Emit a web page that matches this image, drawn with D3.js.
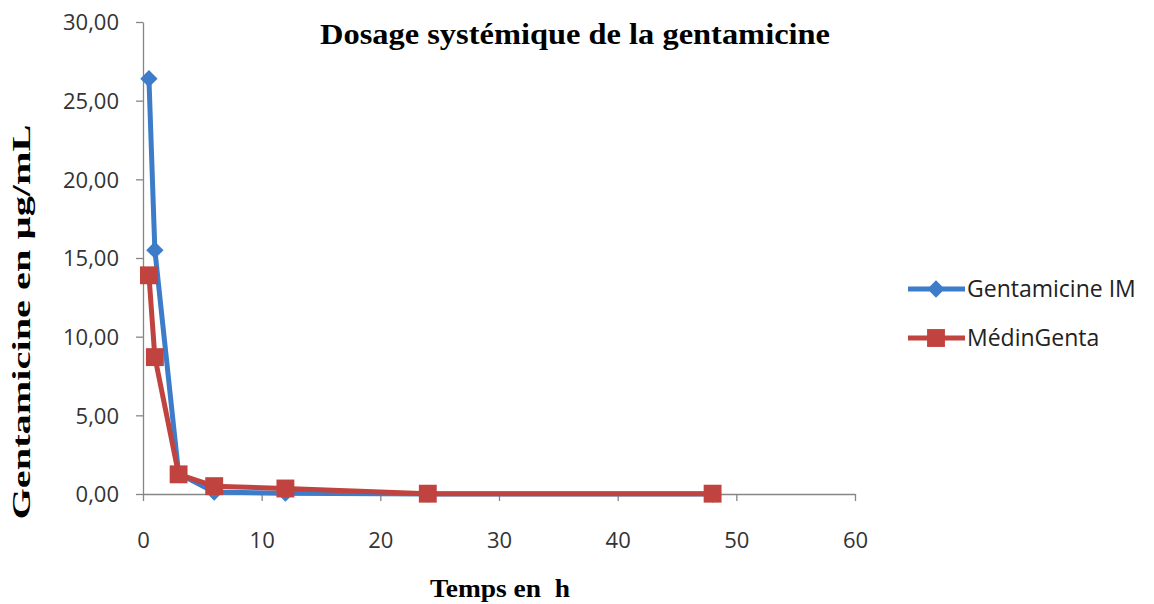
<!DOCTYPE html>
<html><head><meta charset="utf-8">
<script src="https://cdn.jsdelivr.net/npm/d3@7/dist/d3.min.js"></script>
<style>body{margin:0;background:#fff}</style>
</head><body><svg id="c" width="1154" height="604"></svg>
<script>
const times = [0.5, 1, 3, 6, 12, 24, 48];
const gentaIM = [26.4, 15.5, 1.3, 0.12, 0.05, 0.0, 0.0];
const medinGenta = [13.9, 8.7, 1.25, 0.5, 0.35, 0.02, 0.02];
const seriesNames = ["Gentamicine IM", "MédinGenta"];
const xTicks = [0, 10, 20, 30, 40, 50, 60];
const yTicks = [0, 5, 10, 15, 20, 25, 30];

const svg = d3.select("#c");
const x = d3.scaleLinear().domain([0, 60]).range([143, 855]);
const y = d3.scaleLinear().domain([0, 30]).range([494, 22]);
const axisColor = "#868686";
const tickFont = "'Open Sans', 'Noto Sans', sans-serif";

const xa = svg.append("g").attr("transform", "translate(0,494)")
  .call(d3.axisBottom(x).tickValues(xTicks).tickSize(7).tickSizeOuter(0).tickFormat(d3.format("d")));
const ya = svg.append("g").attr("transform", "translate(143,0)")
  .call(d3.axisLeft(y).tickValues(yTicks).tickSize(7).tickSizeOuter(0).tickFormat(d => d.toFixed(2).replace(".", ",")));
[xa, ya].forEach(a => {
  a.select(".domain").attr("stroke", axisColor).attr("stroke-width", 1.3);
  a.selectAll(".tick line").attr("stroke", axisColor).attr("stroke-width", 1.3);
  a.selectAll("text").attr("fill", "#333").attr("font-family", tickFont).attr("font-size", 22);
});
xa.selectAll("text").attr("y", 0).attr("dy", "54px");
ya.selectAll("text").attr("x", -24).attr("dy", "0.35em");

const series = [
  {name: seriesNames[0], vals: gentaIM, color: "#3D7CC9", sym: d3.symbolSquare, size: 150, rot: 45},
  {name: seriesNames[1], vals: medinGenta, color: "#C0433F", sym: d3.symbolSquare, size: 320, rot: 0}
];
const line = d3.line().x((d, i) => x(times[i])).y(d => y(d));
series.forEach(s => {
  svg.append("path").datum(s.vals).attr("d", line).attr("fill", "none")
    .attr("stroke", s.color).attr("stroke-width", 5).attr("stroke-linejoin", "round");
  svg.selectAll(null).data(s.vals).enter().append("path")
    .attr("d", d3.symbol().type(s.sym).size(s.size))
    .attr("transform", (d, i) => `translate(${x(times[i])},${y(d)}) rotate(${s.rot})`)
    .attr("fill", s.color);
});

// legend
series.forEach((s, i) => {
  const ly = 289 + i * 49;
  svg.append("line").attr("x1", 908).attr("x2", 965).attr("y1", ly).attr("y2", ly)
    .attr("stroke", s.color).attr("stroke-width", 5);
  svg.append("path").attr("d", d3.symbol().type(s.sym).size(s.size))
    .attr("transform", `translate(936,${ly}) rotate(${s.rot})`).attr("fill", s.color);
  svg.append("text").attr("x", 967).attr("y", ly).attr("dy", "0.35em")
    .attr("font-family", tickFont).attr("font-size", 23).attr("fill", "#222")
    .text(s.name);
});

// titles
const serif = "'Liberation Serif', 'Times New Roman', serif";
svg.append("text").attr("x", 575).attr("y", 44).attr("text-anchor", "middle")
  .attr("font-family", serif).attr("font-weight", "bold").attr("font-size", 30)
  .attr("textLength", 510).attr("lengthAdjust", "spacingAndGlyphs")
  .text("Dosage systémique de la gentamicine");
svg.append("text").attr("x", 500).attr("y", 597).attr("text-anchor", "middle")
  .attr("font-family", serif).attr("font-weight", "bold").attr("font-size", 25)
  .style("white-space", "pre")
  .attr("textLength", 140).attr("lengthAdjust", "spacingAndGlyphs")
  .text("Temps en  h");
svg.append("text").attr("transform", "translate(30,322) rotate(-90)").attr("text-anchor", "middle")
  .attr("font-family", serif).attr("font-weight", "bold").attr("font-size", 25)
  .attr("textLength", 395).attr("lengthAdjust", "spacingAndGlyphs")
  .text("Gentamicine en µg/mL");
</script></body></html>
